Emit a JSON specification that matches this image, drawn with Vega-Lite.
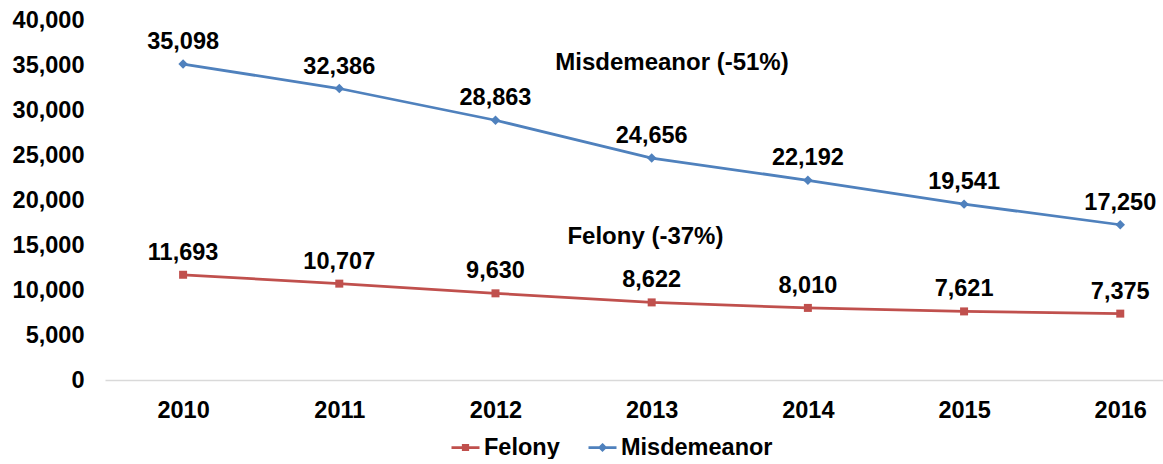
{
  "$schema": "https://vega.github.io/schema/vega-lite/v6.json",
  "width": 1059,
  "height": 360,
  "padding": {"left": 12, "top": 8, "right": 0, "bottom": 0},
  "background": "white",
  "config": {
    "view": {"stroke": null},
    "font": "Liberation Sans",
    "axis": {"labelFont": "Liberation Sans", "labelFontWeight": "bold", "labelFontSize": 23.5, "labelColor": "black"},
    "legend": {"labelFont": "Liberation Sans", "labelFontWeight": "bold", "labelFontSize": 23.5, "labelColor": "black"}
  },
  "datasets": {
    "main": [
      {"year": 2010, "series": "Felony", "value": 11693},
      {"year": 2011, "series": "Felony", "value": 10707},
      {"year": 2012, "series": "Felony", "value": 9630},
      {"year": 2013, "series": "Felony", "value": 8622},
      {"year": 2014, "series": "Felony", "value": 8010},
      {"year": 2015, "series": "Felony", "value": 7621},
      {"year": 2016, "series": "Felony", "value": 7375},
      {"year": 2010, "series": "Misdemeanor", "value": 35098},
      {"year": 2011, "series": "Misdemeanor", "value": 32386},
      {"year": 2012, "series": "Misdemeanor", "value": 28863},
      {"year": 2013, "series": "Misdemeanor", "value": 24656},
      {"year": 2014, "series": "Misdemeanor", "value": 22192},
      {"year": 2015, "series": "Misdemeanor", "value": 19541},
      {"year": 2016, "series": "Misdemeanor", "value": 17250}
    ],
    "notes": [
      {"year": 2013.13, "value": 35222, "text": "Misdemeanor (-51%)"},
      {"year": 2012.96, "value": 15889, "text": "Felony (-37%)"}
    ]
  },
  "layer": [
    {
      "data": {"name": "main"},
      "mark": {"type": "line", "strokeWidth": 2.75},
      "encoding": {
        "x": {"field": "year", "type": "quantitative",
              "scale": {"domain": [2009.5, 2016.28], "nice": false, "zero": false},
              "axis": {"title": null, "values": [2010, 2011, 2012, 2013, 2014, 2015, 2016], "format": "d",
                       "grid": false, "ticks": false, "domainColor": "#d9d9d9", "domainWidth": 1.5, "labelPadding": 18}},
        "y": {"field": "value", "type": "quantitative",
              "scale": {"domain": [0, 40000], "nice": false},
              "axis": {"title": null, "values": [0, 5000, 10000, 15000, 20000, 25000, 30000, 35000, 40000], "format": ",d",
                       "grid": false, "ticks": false, "domain": false, "labelPadding": 21}},
        "color": {"field": "series", "type": "nominal",
                  "scale": {"domain": ["Felony", "Misdemeanor"], "range": ["#C0504D", "#4F81BD"]},
                  "legend": {"title": null, "orient": "none", "legendX": 345, "legendY": 412, "direction": "horizontal",
                             "symbolSize": 784, "symbolStrokeWidth": 2.75, "labelOffset": 3, "columnPadding": 23,
                             "encode": {"symbols": {"update": {
                               "shape": {"signal": "datum.value == 'Felony' ? 'M-1,0H1M-0.16,-0.16H0.16V0.16H-0.16Z' : 'M-1,0H1M0,-0.19L0.19,0L0,0.19L-0.19,0Z'"},
                               "fill": {"signal": "datum.value == 'Felony' ? '#C0504D' : '#4F81BD'"},
                               "stroke": {"signal": "datum.value == 'Felony' ? '#C0504D' : '#4F81BD'"},
                               "fillOpacity": {"value": 1},
                               "strokeWidth": {"value": 2.75}
                             }}}}}
      }
    },
    {
      "data": {"name": "main"},
      "transform": [{"filter": "datum.series == 'Felony'"}],
      "mark": {"type": "point", "filled": true, "opacity": 1, "shape": "square", "size": 64, "color": "#C0504D"},
      "encoding": {
        "x": {"field": "year", "type": "quantitative"},
        "y": {"field": "value", "type": "quantitative"}
      }
    },
    {
      "data": {"name": "main"},
      "transform": [{"filter": "datum.series == 'Misdemeanor'"}],
      "mark": {"type": "point", "filled": true, "opacity": 1, "shape": "diamond", "size": 90, "color": "#4F81BD"},
      "encoding": {
        "x": {"field": "year", "type": "quantitative"},
        "y": {"field": "value", "type": "quantitative"}
      }
    },
    {
      "data": {"name": "main"},
      "mark": {"type": "text", "font": "Liberation Sans", "fontWeight": "bold", "fontSize": 23.5, "baseline": "middle", "dy": -22, "color": "black"},
      "encoding": {
        "x": {"field": "year", "type": "quantitative"},
        "y": {"field": "value", "type": "quantitative"},
        "text": {"field": "value", "type": "quantitative", "format": ",d"}
      }
    },
    {
      "data": {"name": "notes"},
      "mark": {"type": "text", "font": "Liberation Sans", "fontWeight": "bold", "fontSize": 24, "baseline": "middle", "align": "center", "color": "black"},
      "encoding": {
        "x": {"field": "year", "type": "quantitative"},
        "y": {"field": "value", "type": "quantitative"},
        "text": {"field": "text", "type": "nominal"}
      }
    }
  ]
}
